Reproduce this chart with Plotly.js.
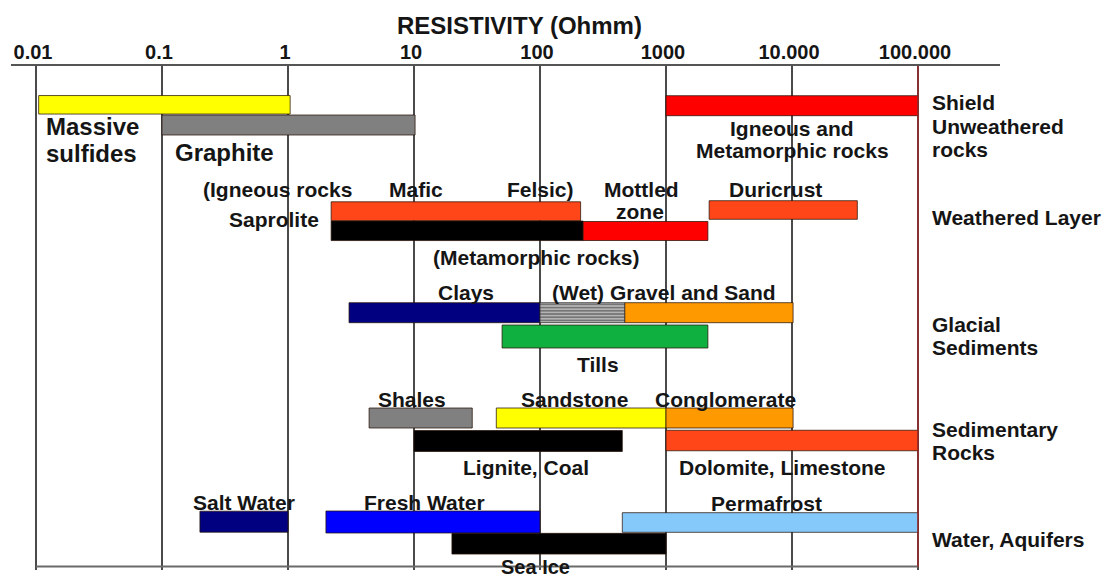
<!DOCTYPE html>
<html>
<head>
<meta charset="utf-8">
<script src="https://cdn.plot.ly/plotly-3.0.1.min.js"></script>
<style>
  html, body { margin: 0; padding: 0; background: #ffffff; }
  #chart { width: 1117px; height: 580px; }
</style>
</head>
<body>
<div id="chart"></div>
<script>
// ---------------- DATA ----------------
const materials = [
  'Massive sulfides', 'Graphite', 'Igneous and Metamorphic rocks',
  'Saprolite (Igneous rocks)', 'Saprolite (Metamorphic rocks)', 'Mottled zone', 'Duricrust',
  'Clays', 'Gravel and Sand', 'Tills',
  'Shales', 'Sandstone', 'Conglomerate', 'Lignite, Coal', 'Dolomite, Limestone',
  'Salt Water', 'Fresh Water', 'Permafrost', 'Sea Ice'
];
// resistivity ranges in Ohm·m (low / high)
const lowOhmm  = [0.0105, 0.1, 1000,  2.2, 2.2, 220, 2200,  3.05, 470, 50,    4.4, 45, 1000, 10, 1000,  0.2, 2.0, 450, 20];
const highOhmm = [1.04,  10.2, 100000, 210, 220, 2150, 33000, 100, 10200, 2150, 29, 1000, 10200, 450, 100000, 1.0, 100, 100000, 1000];
const barColors = ['#FFFF00', '#808080', '#FF0000',
  '#FF4618', '#000000', '#FF0000', '#FF4618',
  '#000080', '#FF9900', '#10B040',
  '#808080', '#FFFF00', '#FF9900', '#000000', '#FF4618',
  '#000080', '#0000FF', '#85C8FA', '#000000'];
// wet gravel and sand (hatched part)
const wetGravelLow = [100];
const wetGravelHigh = [470];

const tickValues = [0.01, 0.1, 1, 10, 100, 1000, 10000, 100000];
const tickLabels = ['0.01', '0.1', '1', '10', '100', '1000', '10.000', '100.000'];

// ---------------- LAYOUT HELPERS (positions, not data) ----------------
const rowY     = [104.8, 125, 105.7, 211.3, 230.8, 231, 210, 312.7, 312.7, 336.5, 418, 418, 418, 441, 440.5, 521.7, 522, 522.5, 543.7];
const rowThick = [18.5,  20,  20,    19,    19.5,  19,  18.6, 20,    20,    23,    20,  20,  20,  21,  20.5,  21,    22,  19.6,  20.7];
const wetRowY = [312.7], wetThick = [20];

const PX0 = 36, DEC = 126;         // pixel of 0.01 and pixels per decade
const PLOT_TOP = 66, PLOT_BOT = 570;
function px2log(px) { return -2 + (px - PX0) / DEC; }
function py2paper(py) { return (PLOT_BOT - py) / (PLOT_BOT - PLOT_TOP); }

const font = "'Liberation Sans', Arial, Helvetica, sans-serif";
const txt = '#151515';

// label: [text, x px, y px (cap centre), size, anchor]
const labels = [
  ['Massive', 44, 126.5, 24, 'left'],
  ['sulfides', 44, 153, 24, 'left'],
  ['Graphite', 173, 152.5, 24, 'left'],
  ['Igneous and', 791.5, 128, 21, 'center'],
  ['Metamorphic rocks', 792, 151, 21, 'center'],
  ['(Igneous rocks', 277.5, 189, 21, 'center'],
  ['Mafic', 416, 189, 21, 'center'],
  ['Felsic)', 540.5, 189, 21, 'center'],
  ['Mottled', 641, 189, 21, 'center'],
  ['zone', 640, 211.5, 21, 'center'],
  ['Duricrust', 775.7, 189, 21, 'center'],
  ['Saprolite', 274, 219, 21, 'center'],
  ['(Metamorphic rocks)', 536.7, 257.5, 21, 'center'],
  ['Clays', 466, 292, 21, 'center'],
  ['(Wet) Gravel and Sand', 664, 292, 21, 'center'],
  ['Tills', 598, 364, 21, 'center'],
  ['Shales', 411.6, 399, 21, 'center'],
  ['Sandstone', 574, 399, 21, 'center'],
  ['Conglomerate', 725.7, 399, 21, 'center'],
  ['Lignite, Coal', 526, 467, 21, 'center'],
  ['Dolomite, Limestone', 782.7, 467, 21, 'center'],
  ['Salt Water', 243.8, 502, 21, 'center'],
  ['Fresh Water', 424.5, 502, 21, 'center'],
  ['Permafrost', 766.5, 503, 21, 'center'],
  ['Sea Ice', 535.5, 567, 20, 'center'],
  // group labels on the right
  ['Shield', 930, 102.5, 21, 'left'],
  ['Unweathered', 930, 126, 21, 'left'],
  ['rocks', 930, 149.5, 21, 'left'],
  ['Weathered Layer', 930, 217, 21, 'left'],
  ['Glacial', 930, 324.5, 21, 'left'],
  ['Sediments', 930, 347.5, 21, 'left'],
  ['Sedimentary', 930, 429, 21, 'left'],
  ['Rocks', 930, 452.5, 21, 'left'],
  ['Water, Aquifers', 930, 539, 21, 'left'],
  // axis title
  ['RESISTIVITY (Ohmm)', 519, 25, 24, 'center']
];

const annotations = labels.map(l => ({
  text: l[0], x: px2log(l[1]), y: py2paper(l[2]), xref: 'x', yref: 'paper',
  xanchor: l[4], yanchor: 'middle', showarrow: false,
  font: { family: font, size: l[3], color: txt, weight: 'bold' }
}));

const traces = [
  {
    type: 'bar', orientation: 'h',
    y: rowY, width: rowThick,
    base: lowOhmm,
    x: highOhmm.map((h, i) => h - lowOhmm[i]),
    text: materials, hoverinfo: 'text', textposition: 'none',
    marker: { color: barColors, line: { color: 'rgba(40,20,10,0.75)', width: 1 } },
    showlegend: false
  },
  {
    type: 'bar', orientation: 'h',
    y: wetRowY, width: wetThick,
    base: wetGravelLow,
    x: wetGravelHigh.map((h, i) => h - wetGravelLow[i]),
    hoverinfo: 'skip', textposition: 'none',
    marker: {
      color: '#A8A8A8',
      pattern: { shape: '-', fgcolor: '#5A5A5A', bgcolor: '#B4B4B4', size: 3.2, solidity: 0.35, fillmode: 'replace' },
      line: { color: 'rgba(40,40,40,0.75)', width: 1 }
    },
    showlegend: false
  },
  { // bottom frame line
    type: 'scatter', mode: 'lines', x: [tickValues[0], tickValues[tickValues.length - 1]], y: [566.5, 566.5],
    line: { color: '#6a6a6a', width: 2 }, hoverinfo: 'skip', showlegend: false
  },
  { // right limit line (dark red)
    type: 'scatter', mode: 'lines', x: [tickValues[tickValues.length - 1], tickValues[tickValues.length - 1]], y: [66, 567],
    line: { color: '#9B2B2B', width: 1.5 }, hoverinfo: 'skip', showlegend: false
  }
];

const layout = {
  width: 1117, height: 580,
  margin: { l: 11, r: 117, t: PLOT_TOP, b: 580 - PLOT_BOT, pad: 0 },
  paper_bgcolor: '#ffffff', plot_bgcolor: '#ffffff',
  barmode: 'overlay',
  showlegend: false,
  xaxis: {
    type: 'log', range: [px2log(11), px2log(1000)],
    side: 'top', showline: true, linecolor: '#555555', linewidth: 2,
    showgrid: true, gridcolor: '#4a4a4a', gridwidth: 1.5,
    zeroline: false, ticks: '',
    tickmode: 'array', tickvals: tickValues, ticktext: tickLabels,
    ticklabelshift: -3, ticklabelstandoff: -3,
    tickfont: { family: font, size: 20, color: txt, weight: 'bold' },
    fixedrange: true
  },
  yaxis: {
    range: [PLOT_BOT, PLOT_TOP], visible: false, showgrid: false, zeroline: false, fixedrange: true
  },
  annotations: annotations
};

Plotly.newPlot('chart', traces, layout, { displayModeBar: false, staticPlot: true });
</script>
</body>
</html>
